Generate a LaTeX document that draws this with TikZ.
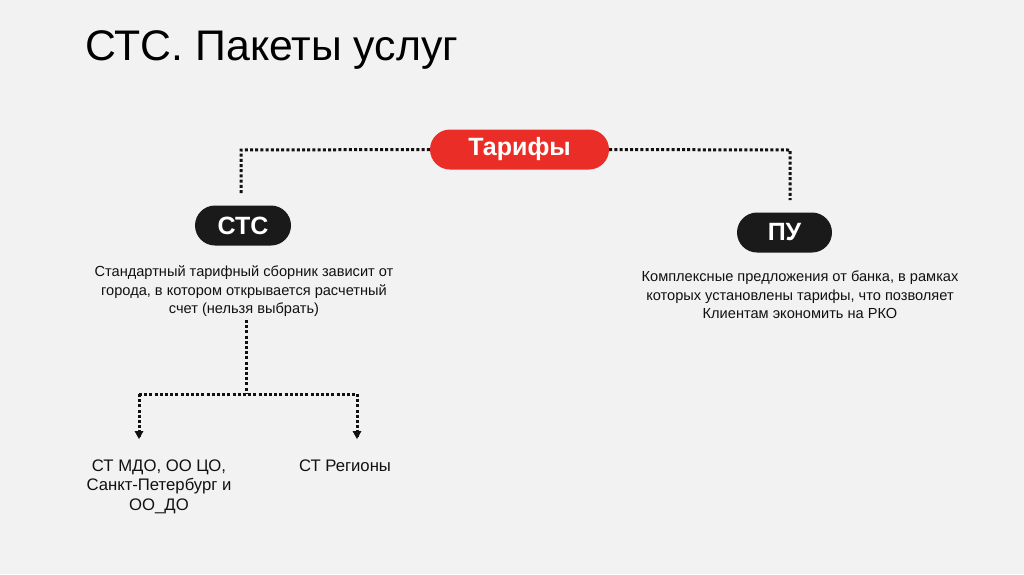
\documentclass[tikz,border=0pt]{standalone}
\usepackage{fontspec}
\setmainfont{Liberation Sans}
\usetikzlibrary{arrows.meta}
\definecolor{bg}{HTML}{F2F2F2}
\definecolor{redpill}{HTML}{EA2E27}
\definecolor{darkpill}{HTML}{1A1A1A}
\definecolor{txt}{HTML}{111111}
\tikzset{
  pill/.style={rounded corners=20pt, minimum height=40pt, text=white, font=\fontsize{25}{28}\selectfont\bfseries, inner sep=0pt},
  dotline/.style={draw=txt, line width=3pt, dash pattern=on 3pt off 2.2pt},
  body/.style={align=center, text=txt, font=\fontsize{14.6}{18.6}\selectfont, inner sep=0pt},
  leaf/.style={align=center, text=txt, font=\fontsize{16.7}{19.6}\selectfont, inner sep=0pt},
}
\begin{document}
\begin{tikzpicture}[x=1pt,y=-1pt]
\fill[bg] (0,0) rectangle (1024,574);
\useasboundingbox (0,0) rectangle (1024,574);
\node[anchor=base west, inner sep=0pt, text=black, font=\fontsize{42.8}{48}\selectfont] (title) at (85,60) {СТС. Пакеты услуг};

\node[pill, fill=redpill, minimum width=179pt] (tar) at (519.5,149.5) {Тарифы};
\node[pill, fill=darkpill, minimum width=96pt] (stc) at (243,225.5) {СТС};
\node[pill, fill=darkpill, minimum width=95pt] (pu) at (784.5,232.5) {ПУ};

\node[body, anchor=north] (stctext) at (244,265.5) {Стандартный тарифный сборник зависит от\\города, в котором открывается расчетный\\счет (нельзя выбрать)};
\node[body, anchor=north] (putext) at (800,270.5) {Комплексные предложения от банка, в рамках\\которых установлены тарифы, что позволяет\\Клиентам экономить на РКО};

\node[leaf, anchor=north] (left) at (159,459.5) {СТ МДО, ОО ЦО,\\Санкт-Петербург и\\ОО\_ДО};
\node[leaf, anchor=north] (right) at (345,459.5) {СТ Регионы};

\coordinate (c1) at (241,150);
\coordinate (c1e) at (241,193);
\coordinate (c2) at (790,150);
\coordinate (c2e) at (790,200);
\draw[dotline] (tar.west) -- (c1) -- (c1e);
\draw[dotline] (tar.east) -- (c2) -- (c2e);

\coordinate (s1) at (246,320);
\coordinate (s2) at (246,393);
\coordinate (hl) at (139,394);
\coordinate (hr) at (357,394);
\coordinate (al) at (139,437);
\coordinate (ar) at (357,437);
\draw[dotline] (s1) -- (s2);
\draw[dotline] (hl) -- (hr);
\draw[dotline] (hl) -- (al);
\draw[dotline] (hr) -- (ar);
\fill[txt] (al) ++(-4.5,-6) -- ++(9,0) -- ++(-4.5,8) -- cycle;
\fill[txt] (ar) ++(-4.5,-6) -- ++(9,0) -- ++(-4.5,8) -- cycle;
\end{tikzpicture}
\end{document}
